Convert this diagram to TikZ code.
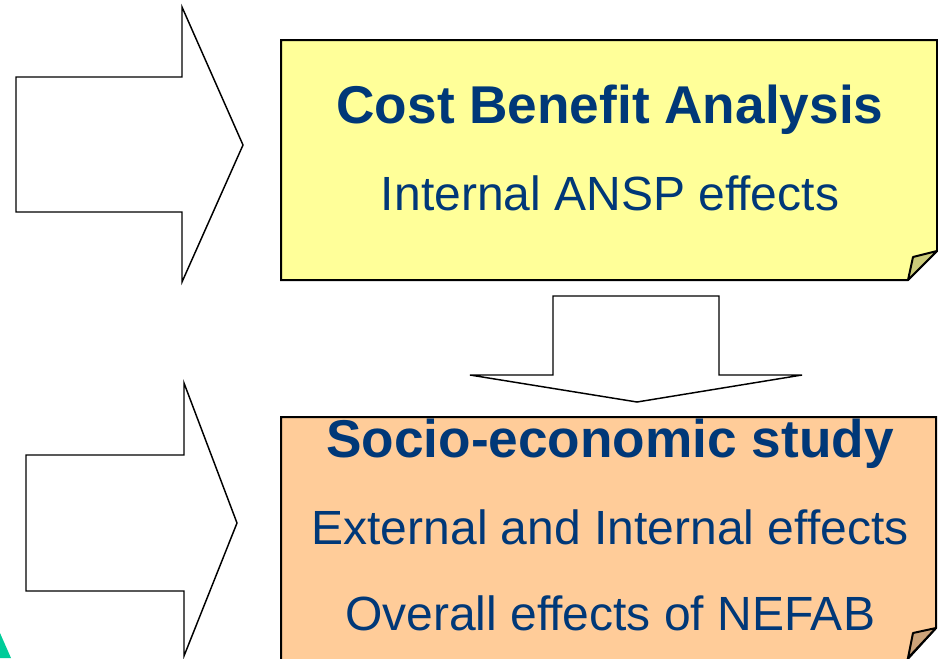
\documentclass[tikz,border=0pt]{standalone}
\usepackage{fontspec}
\setmainfont{Liberation Sans}
\definecolor{navytext}{RGB}{0,56,120}
\definecolor{noteyellow}{RGB}{255,255,153}
\definecolor{foldyellow}{RGB}{204,204,122}
\definecolor{noteorange}{RGB}{255,204,153}
\definecolor{foldorange}{RGB}{204,163,122}
\definecolor{accentgreen}{RGB}{0,204,153}
\begin{document}
\begin{tikzpicture}[x=0.75pt,y=-0.75pt,
  blockarrow/.style={draw=black, line width=1.1pt, fill=white, line join=miter},
  notebox/.style={draw=black, line width=1.5pt, line join=miter},
  foldtri/.style={draw=black, line width=1.5pt, line join=round},
  headline/.style={font=\bfseries\fontsize{39.9}{44}\selectfont, text=navytext, anchor=base, inner sep=0pt},
  bodyline/.style={font=\fontsize{36}{40}\selectfont, text=navytext, anchor=base, inner sep=0pt}]
\useasboundingbox (0,0) rectangle (938,658);
\clip (0,0) rectangle (938,658);

% corner accent
\fill[accentgreen] (0,633) -- (11,658) -- (0,658) -- cycle;

% input arrows on the left
\draw[blockarrow] (16,77) -- (182,77) -- (182,7) -- (243,145) -- (182,282)
  -- (182,212) -- (16,212) -- cycle;
\draw[blockarrow] (26,455) -- (184,455) -- (184,383) -- (237,523) -- (184,656)
  -- (184,591) -- (26,591) -- cycle;

% upper note: cost benefit analysis
\draw[notebox, fill=noteyellow] (281,40) -- (937,40) -- (937,251) -- (908,280)
  -- (281,280) -- cycle;
\draw[foldtri, fill=foldyellow] (937,251) -- (913,257) -- (908,280) -- cycle;

% lower note: socio-economic study (runs off the bottom edge)
\draw[notebox, fill=noteorange] (281,417) -- (936,417) -- (936,628) -- (905,662)
  -- (281,662) -- cycle;
\draw[foldtri, fill=foldorange] (936,628) -- (913,633) -- (908,658) -- cycle;

% arrow between the notes
\draw[blockarrow] (553,296) -- (719,296) -- (719,375) -- (802,375) -- (637,402)
  -- (470,375) -- (553,375) -- cycle;

% texts
\node[headline] (cba) at (610,123) {Cost Benefit Analysis};
\node[bodyline] (cbasub) at (610,210) {Internal ANSP effects};
\node[headline] (se) at (610,457) {Socio-economic study};
\node[bodyline] (sesub) at (610,544) {External and Internal effects};
\node[bodyline] (seall) at (610,630) {Overall effects of NEFAB};
\end{tikzpicture}
\end{document}
